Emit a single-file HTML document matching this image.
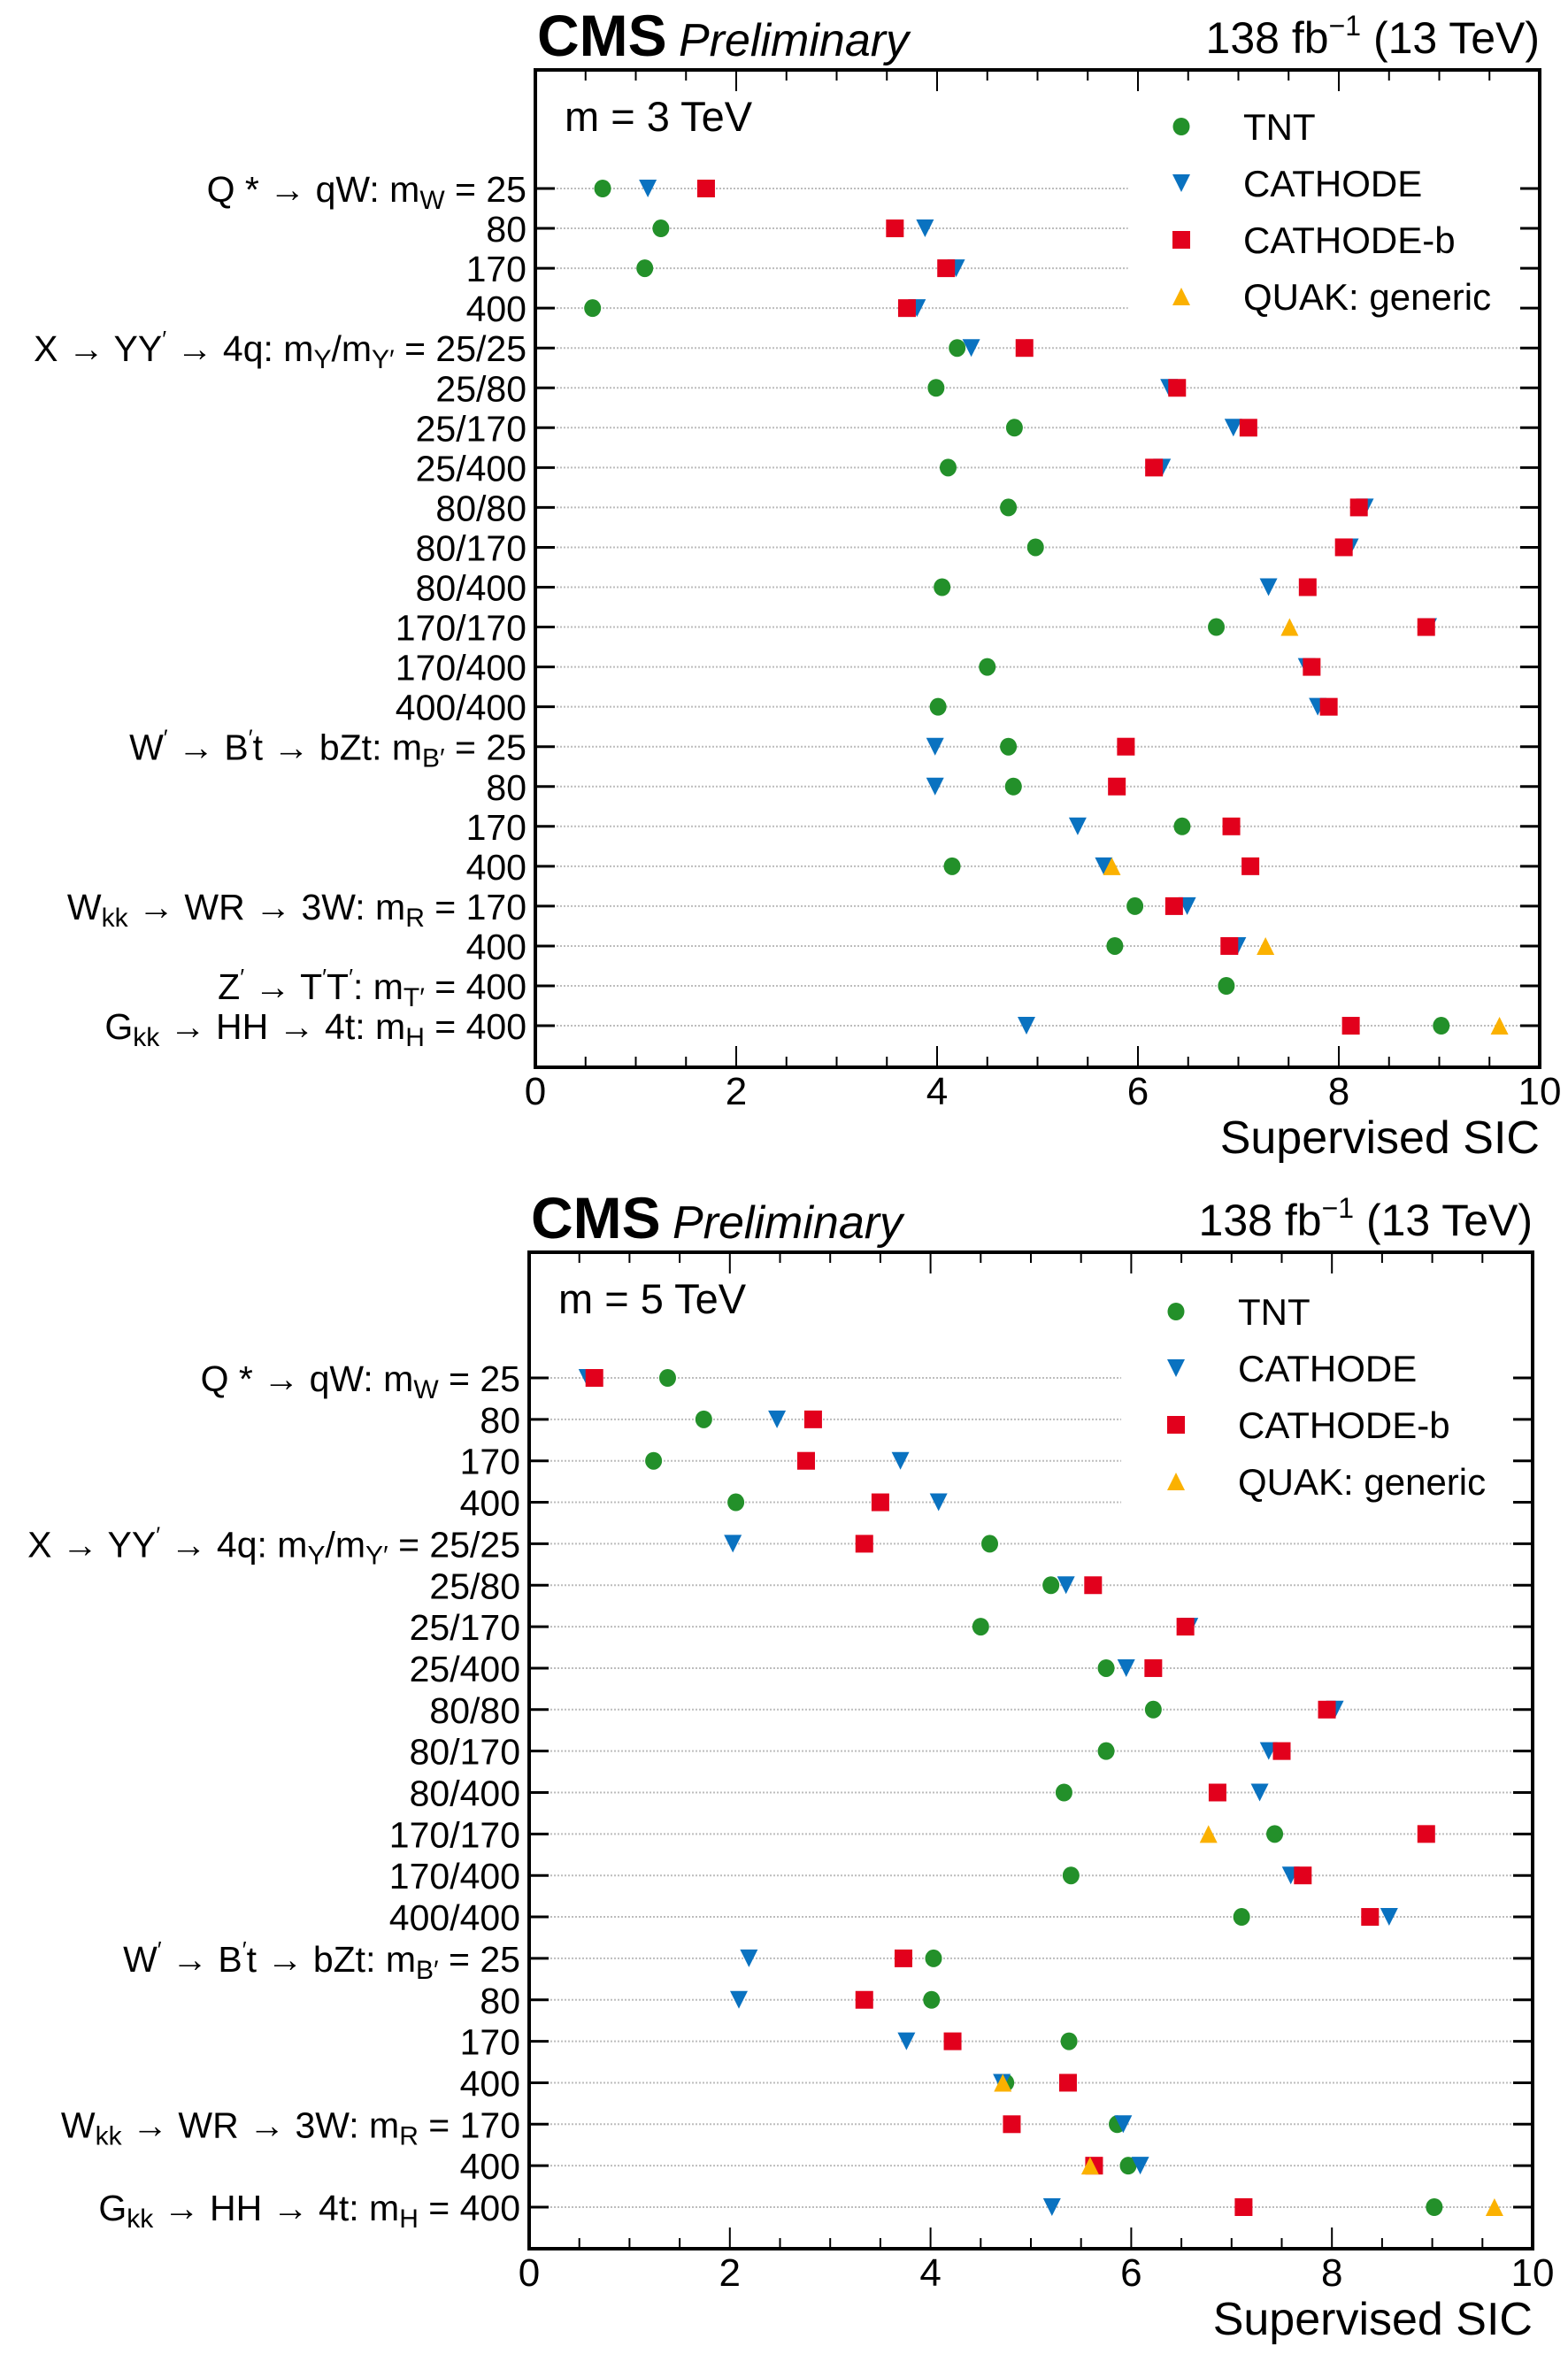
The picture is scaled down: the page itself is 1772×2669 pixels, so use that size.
<!DOCTYPE html>
<html><head><meta charset="utf-8"><style>
html,body{margin:0;padding:0;background:#fff;}
svg{display:block;font-family:"Liberation Sans",sans-serif;}
</style></head><body>
<svg id="chart" width="1772" height="2669" viewBox="0 0 1772 2669" xmlns="http://www.w3.org/2000/svg"></svg>
<script>
// ---- data: top panel (m = 3 TeV) ----
const labelsTop = ["Q *  → qW: m_{W} = 25","80","170","400",
 "X → YY^{′} → 4q: m_{Y}/m_{Y′} = 25/25",
 "25/80","25/170","25/400","80/80","80/170","80/400","170/170","170/400","400/400",
 "W^{′} → B^{′}t → bZt: m_{B′} = 25","80","170","400",
 "W_{kk} → WR → 3W: m_{R} = 170","400",
 "Z^{′} → T^{′}T^{′}: m_{T′} = 400",
 "G_{kk} → HH → 4t: m_{H} = 400"];
const tntTop      = [0.67,1.25,1.09,0.57,4.20,3.99,4.77,4.11,4.71,4.98,4.05,6.78,4.50,4.01,4.71,4.76,6.44,4.15,5.97,5.77,6.88,9.02];
const cathodeTop  = [1.12,3.88,4.19,3.80,4.34,6.31,6.95,6.24,8.26,8.11,7.30,8.89,7.68,7.79,3.98,3.98,5.40,5.66,6.49,6.99,null,4.89];
const cathodeBTop = [1.70,3.58,4.09,3.70,4.87,6.39,7.10,6.16,8.20,8.05,7.69,8.87,7.73,7.90,5.88,5.79,6.93,7.12,6.36,6.91,null,8.12];
const quakTop     = [null,null,null,null,null,null,null,null,null,null,null,7.51,null,null,null,null,null,5.74,null,7.27,null,9.60];
// ---- data: bottom panel (m = 5 TeV) ----
const labelsBot = labelsTop.filter((_,i)=>i!==20);
const tntBot      = [1.38,1.74,1.24,2.06,4.59,5.20,4.50,5.75,6.22,5.75,5.33,7.43,5.40,7.10,4.03,4.01,5.38,4.75,5.86,5.97,9.02];
const cathodeBot  = [0.58,2.47,3.70,4.08,2.03,5.35,6.58,5.95,8.03,7.37,7.28,null,7.59,8.57,2.19,2.09,3.76,4.71,5.92,6.09,5.21];
const cathodeBBot = [0.65,2.83,2.76,3.50,3.34,5.62,6.54,6.22,7.95,7.50,6.86,8.94,7.71,8.38,3.73,3.34,4.22,5.37,4.81,5.63,7.12];
const quakBot     = [null,null,null,null,null,null,null,null,null,null,null,6.77,null,null,null,null,null,4.72,null,5.59,9.62];
const xTicks = [0,2,4,6,8,10];
const legendNames = ["TNT","CATHODE","CATHODE-b","QUAK: generic"];

const NS="http://www.w3.org/2000/svg";
const svg=document.getElementById('chart');
const COL={tnt:"#23902a",cat:"#0a72c0",catb:"#e2001c",quak:"#fbb100"};
function mk(tag,attrs,parent){const e=document.createElementNS(NS,tag);for(const k in attrs)e.setAttribute(k,attrs[k]);(parent||svg).appendChild(e);return e;}
function fillLabel(t,str){
  const re=/([_^])\{([^}]*)\}/g;let last=0,cur=0,m;
  const seg=(txt,off,size)=>{if(!txt)return;const s=mk('tspan',{},t);
    if(off!==cur){s.setAttribute('dy',off-cur);cur=off;}
    if(size)s.setAttribute('font-size',size);s.textContent=txt;};
  while((m=re.exec(str))){seg(str.slice(last,m.index),0,null);
    if(m[1]==='_')seg(m[2],8,30);else seg(m[2],-16,26);last=re.lastIndex;}
  seg(str.slice(last),0,null);
}
function marker(g,kind,cx,cy){
  let e;
  if(kind==='tnt'){e=mk('ellipse',{cx:cx,cy:cy,rx:9.5,ry:10,fill:COL.tnt},g);}
  else if(kind==='cat'){e=mk('polygon',{points:`${cx-10},${cy-10} ${cx+10},${cy-10} ${cx},${cy+10}`,fill:COL.cat},g);}
  else if(kind==='catb'){e=mk('rect',{x:cx-10,y:cy-10,width:20,height:20,fill:COL.catb},g);}
  else {e=mk('polygon',{points:`${cx-10},${cy+10} ${cx+10},${cy+10} ${cx},${cy-10}`,fill:COL.quak},g);}
  return e;
}
function panel(cfg){
  const g=mk('g',{});
  
  
  const X=v=>cfg.left+(v/10)*(cfg.right-cfg.left);
  const Y=i=>cfg.row0+i*cfg.step;
  cfg.labels.forEach((l,i)=>{
    const ln=mk('line',{x1:cfg.left+4,x2:i<4?X(5.9):cfg.right-4,y1:Y(i),y2:Y(i),stroke:"#bdbdbd","stroke-width":2,"stroke-dasharray":"2,2"},g);
    
    
  });
  const fr=mk('rect',{x:cfg.left,y:cfg.top,width:cfg.right-cfg.left,height:cfg.bottom-cfg.top,fill:"none",stroke:"#000","stroke-width":4},g);
  
  
  for(let k=0;k<=20;k++){const v=k*0.5;const len=(k%4===0)?24:12;
    mk('line',{x1:X(v),x2:X(v),y1:cfg.bottom,y2:cfg.bottom-len,stroke:"#000","stroke-width":2},g);
    mk('line',{x1:X(v),x2:X(v),y1:cfg.top,y2:cfg.top+len,stroke:"#000","stroke-width":2},g);}
  xTicks.forEach(v=>{const t=mk('text',{x:X(v),y:cfg.bottom+42,"font-size":44,"text-anchor":"middle"},g);t.textContent=v;
    
    });
  const xt=mk('text',{x:cfg.right,y:cfg.bottom+97,"font-size":52,"text-anchor":"end"},g);xt.textContent="Supervised SIC";
  
  
  cfg.labels.forEach((l,i)=>{
    mk('line',{x1:cfg.left,x2:cfg.left+22,y1:Y(i),y2:Y(i),stroke:"#000","stroke-width":3},g);
    mk('line',{x1:cfg.right,x2:cfg.right-22,y1:Y(i),y2:Y(i),stroke:"#000","stroke-width":3},g);
    const t=mk('text',{x:cfg.left-10,y:Y(i)+15,"font-size":41,"text-anchor":"end"},g);
    fillLabel(t,l);
    
    
  });
  const series=[['tnt',cfg.tnt],['cat',cfg.cat],['catb',cfg.catb],['quak',cfg.quak]];
  series.forEach(([k,arr])=>{arr.forEach((v,i)=>{if(v==null)return;const m=marker(g,k,X(v),Y(i));
    
    });});
  ['tnt','cat','catb','quak'].forEach((k,j)=>{const ly=cfg.legY+j*64;marker(g,k,cfg.legX,ly);
    const t=mk('text',{x:cfg.legX+70,y:ly+15,"font-size":42},g);t.textContent=legendNames[j];
    
    });
  const mt=mk('text',{x:cfg.left+33,y:cfg.top+69,"font-size":47},g);mt.textContent=cfg.mass;
  
  
  const c=mk('text',{x:cfg.left+2,y:cfg.top-16,"font-size":66,"font-weight":"bold"},g);c.textContent="CMS";
  
  
  const p=mk('text',{x:cfg.left+162,y:cfg.top-16,"font-size":52,"font-style":"italic"},g);p.textContent="Preliminary";
  
  
  const lu=mk('text',{x:cfg.right,y:cfg.top-19,"font-size":50,"text-anchor":"end"},g);
  lu.innerHTML="138 fb<tspan font-size='32' dy='-20'>−1</tspan><tspan dy='20'> (13 TeV)</tspan>";
  
  
}
panel({name:'panel-3tev',left:605,right:1740,top:79,bottom:1206,row0:213,step:45.05,labels:labelsTop,
  tnt:tntTop,cat:cathodeTop,catb:cathodeBTop,quak:quakTop,legX:1335,legY:143,mass:"m = 3 TeV"});
panel({name:'panel-5tev',left:598,right:1732,top:1415,bottom:2541,row0:1557,step:46.85,labels:labelsBot,
  tnt:tntBot,cat:cathodeBot,catb:cathodeBBot,quak:quakBot,legX:1329,legY:1482,mass:"m = 5 TeV"});
</script>
</body></html>
